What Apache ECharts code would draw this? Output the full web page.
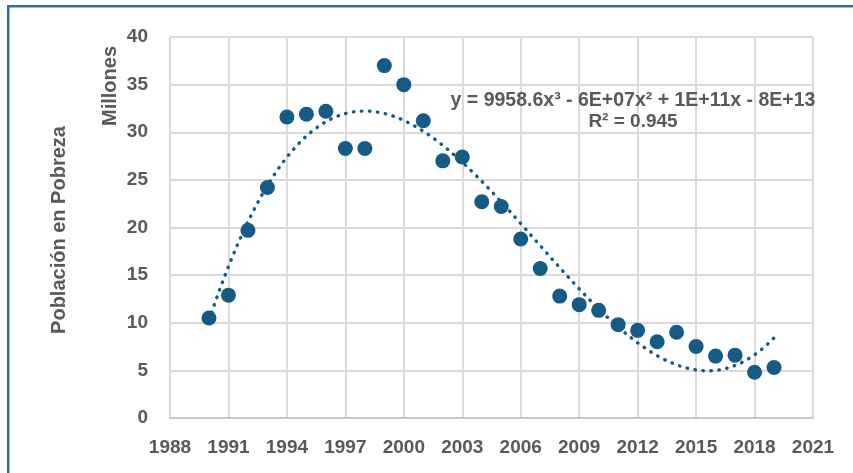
<!DOCTYPE html>
<html>
<head>
<meta charset="utf-8">
<script src="https://cdn.jsdelivr.net/npm/echarts@6/dist/echarts.min.js"></script>
<style>
html,body{margin:0;padding:0;background:#fff;}
#chart{width:853px;height:473px;}
</style>
</head>
<body>
<div id="chart"></div>
<script>
// ---- data ----
var years = [1990,1991,1992,1993,1994,1995,1996,1997,1998,1999,2000,2001,2002,2003,2004,2005,2006,2007,2008,2009,2010,2011,2012,2013,2014,2015,2016,2017,2018,2019];
var poverty = [10.5,12.9,19.7,24.2,31.6,31.9,32.2,28.3,28.3,37.0,35.0,31.2,27.0,27.4,22.7,22.2,18.8,15.7,12.8,11.9,11.3,9.8,9.2,8.0,9.0,7.5,6.5,6.6,4.8,5.3];
var xTicks = [1988,1991,1994,1997,2000,2003,2006,2009,2012,2015,2018,2021];
var yTicks = [0,5,10,15,20,25,30,35,40];
var equationText = 'y = 9958.6x³ - 6E+07x² + 1E+11x - 8E+13';
var r2Text = 'R² = 0.945';
var yTitle = 'Millones';
var yTitle2 = 'Población en Pobreza';

// ---- cubic least-squares trendline computed from the data ----
function cubicFit(xs, ys) {
  var n = xs.length, mx = 0;
  for (var i = 0; i < n; i++) mx += xs[i];
  mx /= n;
  var S = [0,0,0,0,0,0,0], T = [0,0,0,0];
  for (var i = 0; i < n; i++) {
    var t = xs[i] - mx, p = 1;
    for (var k = 0; k < 7; k++) { S[k] += p; if (k < 4) T[k] += p * ys[i]; p *= t; }
  }
  var A = [];
  for (var r = 0; r < 4; r++) { A.push([S[r], S[r+1], S[r+2], S[r+3], T[r]]); }
  for (var c = 0; c < 4; c++) {
    var piv = c;
    for (var r = c+1; r < 4; r++) if (Math.abs(A[r][c]) > Math.abs(A[piv][c])) piv = r;
    var tmp = A[c]; A[c] = A[piv]; A[piv] = tmp;
    for (var r = 0; r < 4; r++) {
      if (r === c) continue;
      var f = A[r][c] / A[c][c];
      for (var k = c; k < 5; k++) A[r][k] -= f * A[c][k];
    }
  }
  var coef = [A[0][4]/A[0][0], A[1][4]/A[1][1], A[2][4]/A[2][2], A[3][4]/A[3][3]];
  return function (x) { var t = x - mx; return coef[0] + coef[1]*t + coef[2]*t*t + coef[3]*t*t*t; };
}
var fit = cubicFit(years, poverty);
var trend = [];
for (var x = years[0]; x <= years[years.length-1] + 1e-9; x += 0.25) trend.push([x, fit(x)]);

var scatterData = years.map(function (y, i) { return [y, poverty[i]]; });

var textColor = '#595959';
var fontFam = '"Liberation Sans", Arial, sans-serif';
var markColor = '#155b85';

var chart = echarts.init(document.getElementById('chart'), null, {renderer: 'canvas'});
chart.setOption({
  animation: false,
  backgroundColor: '#ffffff',
  grid: {left: 170, right: 40, top: 37, bottom: 55, containLabel: false},
  xAxis: {
    type: 'value',
    min: xTicks[0], max: xTicks[xTicks.length-1], interval: 3,
    axisLine: {show: true, lineStyle: {color: '#c8c8c8', width: 2}},
    axisTick: {show: false},
    splitLine: {show: true, lineStyle: {color: '#dadada', width: 2}},
    axisLabel: {color: textColor, fontSize: 19, fontWeight: 'bold', fontFamily: fontFam, margin: 20,
      formatter: function (v) { return String(v); }}
  },
  yAxis: {
    type: 'value',
    min: yTicks[0], max: yTicks[yTicks.length-1], interval: 5,
    axisLine: {show: false},
    axisTick: {show: false},
    splitLine: {show: true, lineStyle: {color: '#dadada', width: 2}},
    axisLabel: {color: textColor, fontSize: 19, fontWeight: 'bold', fontFamily: fontFam, margin: 22}
  },
  series: [
    {
      type: 'scatter', data: scatterData, symbol: 'circle', symbolSize: 15,
      itemStyle: {color: markColor, opacity: 1}, z: 2
    },
    {
      type: 'line', data: trend, showSymbol: false, smooth: false, z: 3,
      lineStyle: {color: markColor, width: 3.4, type: [0.5, 7.5], cap: 'round'}
    }
  ],
  graphic: [
    {type: 'rect', shape: {x: 7, y: 5, width: 2.5, height: 468}, style: {fill: '#3c6d8e'}, silent: true},
    {type: 'rect', shape: {x: 7, y: 5, width: 846, height: 2.5}, style: {fill: '#3c6d8e'}, silent: true},
    {type: 'text', rotation: Math.PI/2, x: 110, y: 86, style: {text: yTitle, fill: textColor,
      font: 'bold 20px ' + fontFam, textAlign: 'center', textVerticalAlign: 'middle'}, z: 10},
    {type: 'text', rotation: Math.PI/2, x: 59, y: 230, style: {text: yTitle2, fill: textColor,
      font: 'bold 20px ' + fontFam, textAlign: 'center', textVerticalAlign: 'middle'}, z: 10},
    {type: 'text', x: 633, y: 101, style: {text: equationText, fill: textColor,
      font: 'bold 19.5px ' + fontFam, textAlign: 'center', textVerticalAlign: 'middle'}, z: 10},
    {type: 'text', x: 633, y: 122, style: {text: r2Text, fill: textColor,
      font: 'bold 19px ' + fontFam, textAlign: 'center', textVerticalAlign: 'middle'}, z: 10}
  ]
});
</script>
</body>
</html>
